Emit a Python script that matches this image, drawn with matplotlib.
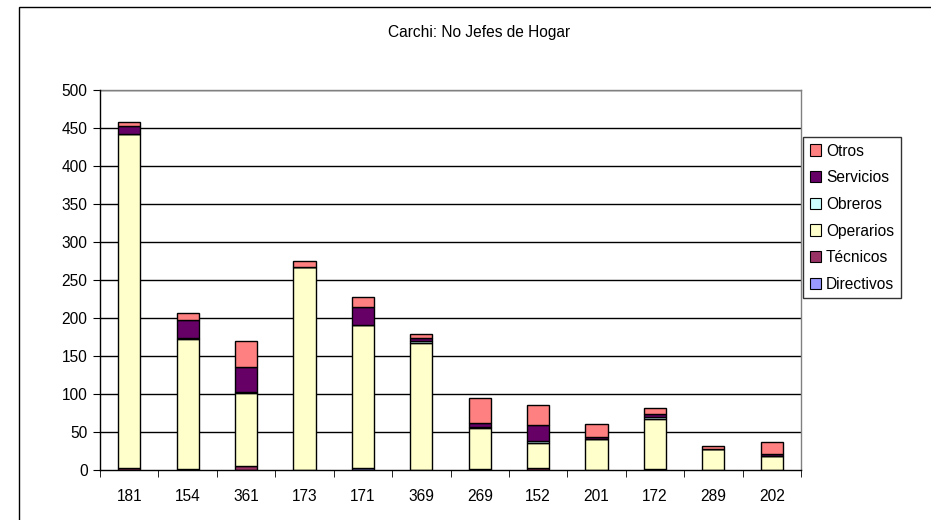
import matplotlib
matplotlib.use("Agg")
import matplotlib.pyplot as plt
from matplotlib.patches import Rectangle, Patch
import numpy as np

plt.rcParams['font.family'] = ['Liberation Sans', 'DejaVu Sans']

categories = ["181", "154", "361", "173", "171", "369", "269", "152", "201", "172", "289", "202"]
series_names = ["Directivos", "Técnicos", "Operarios", "Obreros", "Servicios", "Otros"]
directivos = [0, 0, 0, 0, 2, 0, 0, 0, 0, 0, 0, 0]
tecnicos   = [2, 1, 5, 0, 1, 0, 1, 3, 0, 1, 0, 0]
operarios  = [440, 171, 96, 267, 188, 167, 54, 33, 41, 66, 27, 18]
obreros    = [0, 2, 2, 0, 0, 3, 1, 2, 0, 3, 0, 0]
servicios  = [10, 23, 32, 0, 23, 4, 6, 21, 3, 4, 1, 3]
otros      = [6, 10, 35, 8, 14, 5, 33, 27, 16, 7, 4, 16]
colors = ["#9999FF", "#993366", "#FFFFCC", "#CCFFFF", "#660066", "#FF8080"]
title = "Carchi: No Jefes de Hogar"
yticks = list(range(0, 501, 50))

W, H = 931, 520
fig = plt.figure(figsize=(W / 100, H / 100), dpi=100)
fig.patch.set_facecolor("white")

# outer chart frame
fig.add_artist(Rectangle((19 / W, -0.1), 1.2, (H - 7) / H + 0.1, transform=fig.transFigure,
                         fill=False, edgecolor="black", linewidth=1.0))

left, right, top, bottom = 100, 801, 90, 470
ax = fig.add_axes([left / W, 1 - bottom / H, (right - left) / W, (bottom - top) / H])

x = np.arange(len(categories))
data = [directivos, tecnicos, operarios, obreros, servicios, otros]
base = np.zeros(len(categories))
handles = []
for name, vals, c in zip(series_names, data, colors):
    v = np.array(vals, dtype=float)
    ax.bar(x, v, bottom=base, width=0.38, color=c, edgecolor="black", linewidth=1.0, zorder=3)
    base += v
    handles.append(Patch(facecolor=c, edgecolor="black", linewidth=0.8, label=name))

fs = 11.2
ax.set_xlim(-0.5, len(categories) - 0.5)
ax.set_ylim(0, 500)
ax.set_yticks(yticks)
ax.set_yticklabels([str(t) for t in yticks], fontsize=fs)
for t in yticks[1:]:
    ax.axhline(t, color="black", linewidth=1.0, zorder=1)

ax.set_xticks(x)
ax.set_xticklabels(categories, fontsize=fs)
ax.tick_params(axis="x", length=0, pad=14)
ax.set_xticks(np.arange(-0.5, len(categories) + 0.5, 1), minor=True)
ax.tick_params(axis="x", which="minor", length=5, direction="out", color="black")
ax.tick_params(axis="y", length=5, direction="out", color="black", pad=4)

ax.spines["left"].set_color("black")
ax.spines["bottom"].set_color("black")
ax.spines["top"].set_color("#808080")
ax.spines["right"].set_color("#808080")
for s in ax.spines.values():
    s.set_linewidth(1.0)
ax.spines["left"].set_zorder(4)
ax.spines["bottom"].set_zorder(4)

fig.text(479 / W, 1 - 32 / H, title, ha="center", va="center", fontsize=fs)

leg = fig.legend(handles=handles[::-1], loc="upper left",
                 bbox_to_anchor=(803 / W, 1 - 137 / H), fontsize=fs,
                 frameon=True, fancybox=False, edgecolor="black",
                 handlelength=0.75, handleheight=0.75, handletextpad=0.3,
                 labelspacing=0.75, borderpad=0.42, borderaxespad=0)
leg.get_frame().set_linewidth(1.0)

fig.savefig("out.png", dpi=100)
